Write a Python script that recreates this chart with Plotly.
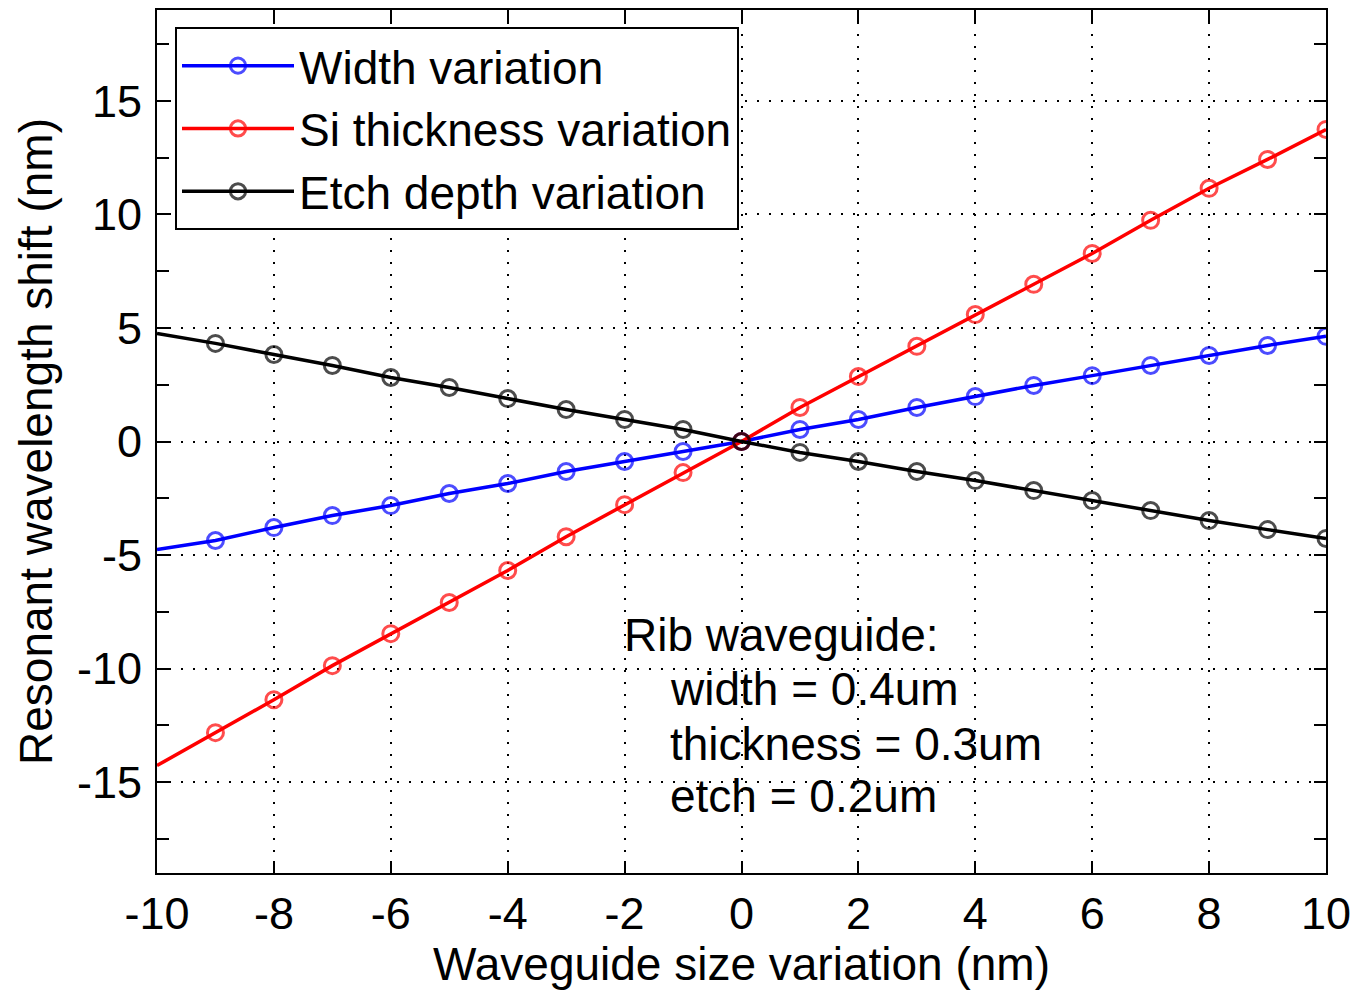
import plotly.graph_objects as go

x_vals = [-10, -9, -8, -7, -6, -5, -4, -3, -2, -1, 0, 1, 2, 3, 4, 5, 6, 7, 8, 9, 10]
width_shift = [-4.76, -4.36, -3.79, -3.26, -2.82, -2.29, -1.85, -1.32, -0.88, -0.44, 0.0,
               0.53, 0.97, 1.50, 1.98, 2.47, 2.90, 3.35, 3.79, 4.23, 4.63]
si_shift = [-14.27, -12.82, -11.37, -9.87, -8.46, -7.09, -5.68, -4.19, -2.78, -1.37, 0.0,
            1.50, 2.86, 4.19, 5.59, 6.92, 8.28, 9.74, 11.15, 12.42, 13.74]
etch_shift = [4.76, 4.32, 3.83, 3.35, 2.82, 2.38, 1.89, 1.41, 0.97, 0.53, 0.0,
              -0.48, -0.88, -1.32, -1.72, -2.16, -2.60, -3.04, -3.48, -3.88, -4.27]
series_names = ["Width variation", "Si thickness variation", "Etch depth variation"]
series_colors = ["#0000ff", "#ff0000", "#000000"]
x_ticks = [-10, -8, -6, -4, -2, 0, 2, 4, 6, 8, 10]
x_tick_text = ["-10", "-8", "-6", "-4", "-2", "0", "2", "4", "6", "8", "10"]
y_ticks = [-15, -10, -5, 0, 5, 10, 15]
y_tick_text = ["-15", "-10", "-5", "0", "5", "10", "15"]
note_lines = ["Rib waveguide:", "width = 0.4um", "thickness = 0.3um", "etch = 0.2um"]

FONT = "Liberation Sans, Arial, Helvetica, sans-serif"
fig = go.Figure()
marker_sizes = [0] + [16] * (len(x_vals) - 1)
for name, ys, col in zip(series_names, [width_shift, si_shift, etch_shift], series_colors):
    fig.add_trace(go.Scatter(
        x=x_vals, y=ys, name=name, mode="lines+markers",
        line=dict(color=col, width=3.5),
        marker=dict(symbol="circle-open", size=marker_sizes, color=col,
                    line=dict(color=col, width=3)),
    ))

axis_common = dict(
    showline=True, linecolor="black", linewidth=2, mirror="allticks",
    ticks="inside", ticklen=12, tickwidth=1.5, tickcolor="black",
    showgrid=True, gridcolor="black", gridwidth=1.5, griddash="2px,10px",
    zeroline=False,
    tickfont=dict(family=FONT, size=45, color="black"),
)
fig.update_xaxes(range=[-10, 10], tickvals=x_ticks, ticktext=x_tick_text, ticklabelstandoff=0,
                 title=dict(text="Waveguide size variation (nm)",
                            font=dict(family=FONT, size=46, color="black"), standoff=6),
                 **axis_common)
fig.update_yaxes(range=[-19, 19], tickvals=y_ticks, ticktext=y_tick_text, ticklabelstandoff=4,
                 minor=dict(dtick=2.5, tick0=0, ticks="inside", ticklen=12,
                            tickcolor="black", tickwidth=1.5, showgrid=False),
                 title=dict(text="Resonant wavelength shift (nm)",
                            font=dict(family=FONT, size=46, color="black"), standoff=10),
                 **axis_common)

# annotation block
note_x = [-2.04, -1.25, -1.25, -1.25]
note_y = [-8.5, -10.9, -13.3, -15.6]
for t, xx, yy in zip(note_lines, note_x, note_y):
    fig.add_annotation(x=xx, y=yy, xref="x", yref="y", text=t, showarrow=False,
                       xanchor="left", yanchor="middle",
                       font=dict(family=FONT, size=46, color="black"))

fig.update_layout(
    width=1355, height=990,
    margin=dict(l=157, r=29, t=10, b=117, autoexpand=False),
    paper_bgcolor="white", plot_bgcolor="white",
    showlegend=True,
    legend=dict(x=0.0154, y=0.980, xanchor="left", yanchor="top",
                bgcolor="white", bordercolor="black", borderwidth=2,
                font=dict(family=FONT, size=46, color="black"),
                itemwidth=112, tracegroupgap=0),
)
fig.write_html("out.html", config={"displayModeBar": False},
               post_script="document.body.style.margin='0';document.body.style.overflow='hidden';")
